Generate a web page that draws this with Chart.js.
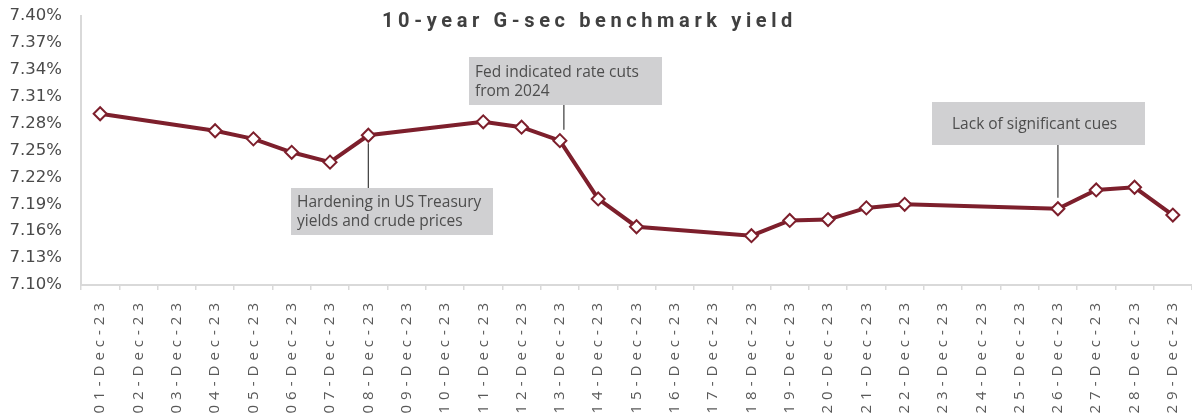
<!DOCTYPE html>
<html>
<head>
<meta charset="utf-8">
<script src="https://cdn.jsdelivr.net/npm/chart.js@4.4.1/dist/chart.umd.min.js"></script>
<style>
  html, body { margin: 0; padding: 0; background: #fff; }
  #wrap { width: 1192px; height: 418px; position: relative; }
</style>
</head>
<body>
<div id="wrap"><canvas id="myChart"></canvas></div>
<script>
// Datos del grafico
const titulo = "10-year G-sec benchmark yield";
const fechas = ["01-Dec-23","02-Dec-23","03-Dec-23","04-Dec-23","05-Dec-23","06-Dec-23","07-Dec-23",
  "08-Dec-23","09-Dec-23","10-Dec-23","11-Dec-23","12-Dec-23","13-Dec-23","14-Dec-23","15-Dec-23",
  "16-Dec-23","17-Dec-23","18-Dec-23","19-Dec-23","20-Dec-23","21-Dec-23","22-Dec-23","23-Dec-23",
  "24-Dec-23","25-Dec-23","26-Dec-23","27-Dec-23","28-Dec-23","29-Dec-23"];
// null = sin dato (fin de semana / festivo)
const rendimiento = [7.291, null, null, 7.272, 7.263, 7.248, 7.237,
  7.267, null, null, 7.282, 7.276, 7.261, 7.196, 7.165,
  null, null, 7.155, 7.172, 7.173, 7.186, 7.190, null,
  null, null, 7.185, 7.206, 7.209, 7.178];
const ejeY = [7.10, 7.40, 0.03]; // min, max, paso

// Notas: texto + fecha a la que apuntan
const notas = [
  { lineas: ["Hardening in US Treasury", "yields and crude prices"], fecha: "08-Dec-23", caja: [291, 188, 202, 47], abajo: true, dx: 0 },
  { lineas: ["Fed indicated rate cuts", "from 2024"], fecha: "13-Dec-23", caja: [469, 57, 193, 48], abajo: false, dx: 4 },
  { lineas: ["Lack of significant cues"], fecha: "26-Dec-23", caja: [932, 102, 213, 43], abajo: false, dx: 0 }
];

const fuente = "'Open Sans', Roboto, sans-serif";
const granate = "#7d1f2c";

// Plugin: titulo y notas dibujadas dentro del area
const extras = {
  id: "extras",
  afterLayout(chart) {
    // espaciado de letras para las etiquetas del eje X
    const s = chart.scales.x;
    if (!s._espaciado) {
      const orig = s.drawLabels.bind(s);
      s.drawLabels = function (area) {
        const ctx = this.ctx;
        ctx.save();
        ctx.letterSpacing = "5px";
        orig(area);
        ctx.restore();
      };
      s._espaciado = true;
    }
  },
  beforeDatasetsDraw(chart) {
    const ctx = chart.ctx;
    const meta = chart.getDatasetMeta(0);
    ctx.save();
    notas.forEach(n => {
      const [bx, by, bw, bh] = n.caja;
      const p = meta.data[fechas.indexOf(n.fecha)];
      // linea de conexion
      ctx.strokeStyle = "#3a3a3a";
      ctx.lineWidth = 1.2;
      ctx.beginPath();
      if (n.abajo) {
        ctx.moveTo(p.x, p.y + 8);
        ctx.lineTo(p.x, by);
      } else {
        ctx.moveTo(p.x + n.dx, by + bh);
        ctx.lineTo(p.x + n.dx, p.y - 11);
      }
      ctx.stroke();
      // caja
      ctx.fillStyle = "#d0d0d2";
      ctx.fillRect(bx, by, bw, bh);
      // texto
      ctx.fillStyle = "#4d4d4d";
      ctx.font = "15.5px " + fuente;
      ctx.textBaseline = "middle";
      ctx.textAlign = "left";
      const lh = 19;
      const y0 = by + bh / 2 - (n.lineas.length - 1) * lh / 2 + 1;
      n.lineas.forEach((l, i) => ctx.fillText(l, bx + (n.lineas.length === 1 ? 20 : 6), y0 + i * lh));
    });
    // titulo con espaciado para ocupar ~415 px
    ctx.fillStyle = "#404040";
    ctx.font = "bold 20px Roboto, sans-serif";
    const w = ctx.measureText(titulo).width;
    ctx.letterSpacing = ((415 - w) / titulo.length) + "px";
    ctx.textAlign = "left";
    ctx.textBaseline = "alphabetic";
    ctx.fillText(titulo, 382, 27);
    ctx.restore();
  }
};

const datos = {
  labels: fechas,
  datasets: [{
    label: titulo,
    data: rendimiento,
    borderColor: granate,
    borderWidth: 4,
    spanGaps: true,
    tension: 0,
    pointStyle: "rectRot",
    pointRadius: 6.5,
    pointHoverRadius: 6.5,
    pointBackgroundColor: "#ffffff",
    pointBorderColor: granate,
    pointBorderWidth: 2
  }]
};

new Chart(document.getElementById("myChart"), {
  type: "line",
  data: datos,
  plugins: [extras],
  options: {
    responsive: true,
    maintainAspectRatio: false,
    animation: false,
    layout: { autoPadding: false, padding: { top: 16, right: -4, left: 0, bottom: 0 } },
    plugins: {
      legend: { display: false },
      title: { display: false },
      tooltip: { enabled: false }
    },
    scales: {
      x: {
        offset: true,
        grid: { display: true, drawOnChartArea: false, drawTicks: true, tickLength: 5, color: "#d9d9d9", lineWidth: 1.5, offset: true },
        border: { display: true, color: "#d9d9d9", width: 2 },
        ticks: {
          autoSkip: false,
          maxRotation: 90,
          minRotation: 90,
          padding: 8,
          color: "#595959",
          font: { family: fuente, size: 15 }
        },
        afterFit(scale) {
          scale.height = 133;
          scale.paddingLeft = 0;
          scale.paddingRight = 0;
        }
      },
      y: {
        min: ejeY[0],
        max: ejeY[1],
        grid: { display: false, drawTicks: false },
        border: { display: true, color: "#d9d9d9", width: 2 },
        ticks: {
          stepSize: ejeY[2],
          padding: 19,
          color: "#4a4a4a",
          font: { family: "'DejaVu Sans', sans-serif", size: 16.5 },
          callback: v => v.toFixed(2) + "%"
        },
        afterFit(scale) {
          scale.width = 81;
          scale.paddingTop = 0;
          scale.paddingBottom = 0;
        }
      }
    }
  }
});
</script>
</body>
</html>
